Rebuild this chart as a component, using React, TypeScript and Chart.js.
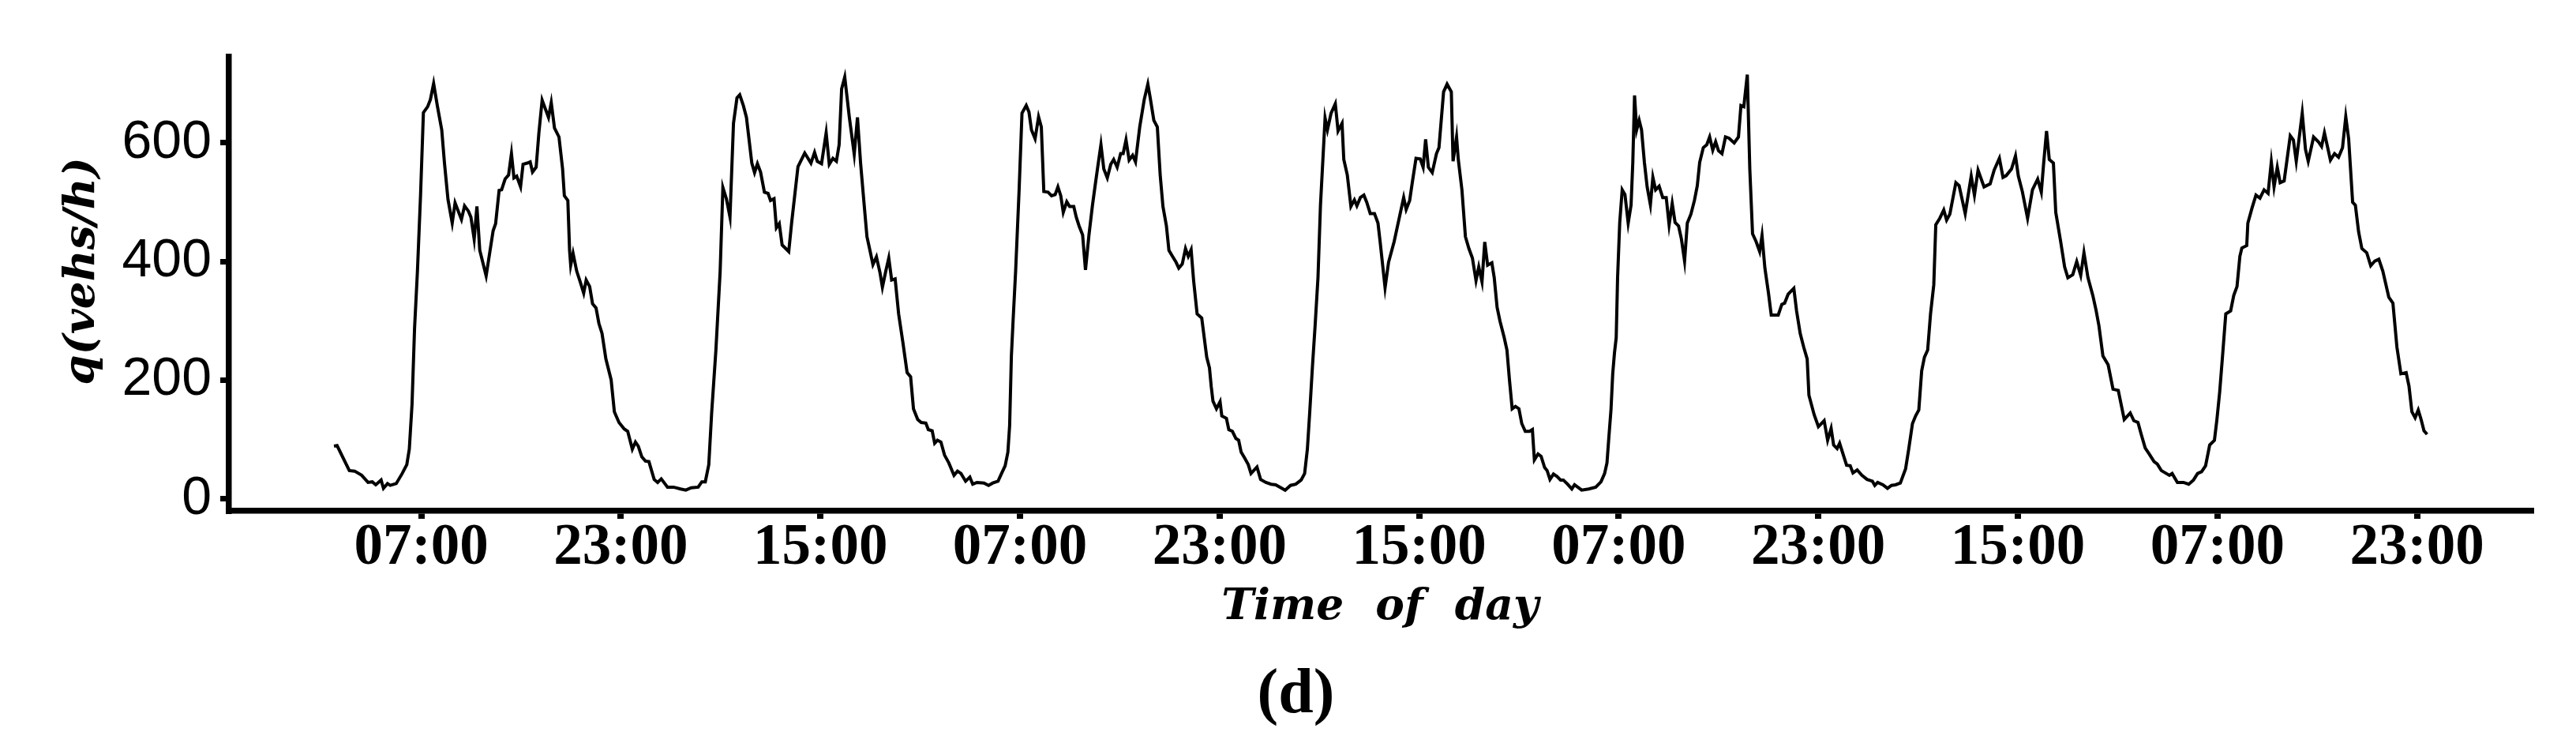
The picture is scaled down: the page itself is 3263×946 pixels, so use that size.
import React, { useEffect, useRef } from 'react';
import { Chart, registerables } from 'chart.js';

Chart.register(...registerables);

// time since start of record (hours) and traffic flow q (vehs/h)
const hours = [
  0.00, 0.25, 1.23, 1.66, 2.22, 2.73, 3.07, 3.35, 3.78, 3.97, 4.29, 4.51, 4.99, 5.47, 5.84, 6.04, 6.26, 6.46, 6.69, 6.94,
  7.17, 7.51, 7.73, 7.99, 8.30, 8.64, 8.86, 9.14, 9.48, 9.71, 10.22, 10.47, 10.78, 10.98, 11.24, 11.46, 11.69, 12.20, 12.76, 12.96,
  13.24, 13.44, 13.72, 14.00, 14.23, 14.43, 14.65, 14.96, 15.16, 15.50, 15.73, 15.92, 16.21, 16.43, 16.69, 17.20, 17.42, 17.68, 18.04, 18.33,
  18.47, 18.75, 18.89, 18.98, 19.17, 19.46, 19.74, 20.02, 20.22, 20.50, 20.73, 21.01, 21.24, 21.49, 21.80, 22.22, 22.48, 22.85, 23.27, 23.55,
  23.92, 24.17, 24.40, 24.68, 24.97, 25.25, 25.67, 25.95, 26.24, 26.74, 27.22, 27.79, 28.21, 28.64, 29.20, 29.49, 29.77, 30.05, 30.28, 30.62,
  30.96, 31.18, 31.46, 31.75, 32.03, 32.31, 32.53, 32.82, 33.07, 33.50, 33.72, 33.95, 34.20, 34.51, 34.80, 35.00, 35.28, 35.47, 35.70, 35.93,
  36.46, 36.69, 37.20, 37.74, 38.24, 38.53, 38.75, 39.09, 39.46, 39.71, 40.00, 40.28, 40.50, 40.70, 40.95, 41.32, 41.71, 41.97, 42.22, 42.51,
  42.73, 42.99, 43.21, 43.49, 43.78, 43.97, 44.26, 44.48, 44.71, 44.99, 45.27, 45.61, 45.95, 46.23, 46.46, 46.80, 47.08, 47.45, 47.65, 47.96,
  48.16, 48.38, 48.66, 48.95, 49.29, 49.71, 49.99, 50.27, 50.64, 50.98, 51.21, 51.55, 52.11, 52.48, 52.82, 53.24, 53.52, 53.81, 54.03, 54.17,
  54.31, 54.45, 54.65, 54.93, 55.16, 55.50, 55.72, 55.92, 56.21, 56.49, 56.71, 56.91, 57.25, 57.53, 57.82, 58.04, 58.27, 58.47, 58.75, 58.98,
  59.31, 59.51, 59.74, 60.02, 60.25, 60.53, 60.81, 61.01, 61.21, 61.49, 61.72, 62.00, 62.28, 62.51, 62.79, 63.07, 63.27, 63.50, 63.75, 64.03,
  64.26, 64.60, 64.96, 65.25, 65.44, 65.73, 66.01, 66.24, 66.46, 66.74, 66.94, 67.22, 67.51, 67.73, 68.01, 68.27, 68.49, 68.72, 68.92, 69.20,
  69.57, 69.77, 69.97, 70.19, 70.33, 70.47, 70.75, 71.04, 71.18, 71.55, 71.74, 72.03, 72.31, 72.53, 72.73, 73.01, 73.30, 73.52, 74.00, 74.29,
  74.71, 75.13, 75.50, 75.84, 76.26, 76.69, 77.11, 77.54, 77.82, 78.04, 78.24, 78.44, 78.66, 78.89, 79.09, 79.46, 79.65, 79.94, 80.28, 80.50,
  80.82, 80.96, 81.24, 81.53, 81.81, 82.01, 82.29, 82.57, 82.80, 83.08, 83.42, 83.70, 83.87, 84.27, 84.55, 85.00, 85.40, 85.76, 85.96, 86.24,
  86.47, 86.75, 87.09, 87.32, 87.52, 87.74, 88.05, 88.39, 88.59, 88.96, 89.24, 89.58, 89.72, 90.00, 90.14, 90.43, 90.71, 90.99, 91.27, 91.56,
  91.78, 92.04, 92.26, 92.49, 92.83, 93.02, 93.25, 93.48, 93.82, 94.04, 94.24, 94.46, 94.72, 95.00, 95.23, 95.51, 95.85, 96.08, 96.24, 96.53,
  96.78, 97.06, 97.26, 97.49, 97.77, 98.05, 98.34, 98.56, 98.90, 99.24, 99.46, 100.03, 100.60, 101.16, 101.58, 101.87, 102.06, 102.21, 102.38, 102.52,
  102.66, 102.80, 102.91, 103.08, 103.28, 103.50, 103.76, 103.99, 104.13, 104.27, 104.44, 104.64, 104.83, 105.06, 105.28, 105.54, 105.74, 105.96, 106.24, 106.53,
  106.81, 107.04, 107.29, 107.52, 107.80, 108.02, 108.28, 108.50, 108.79, 109.07, 109.30, 109.49, 109.78, 110.06, 110.29, 110.54, 110.77, 111.00, 111.28, 111.56,
  111.84, 112.26, 112.60, 112.80, 113.03, 113.31, 113.51, 113.73, 114.01, 114.30, 114.49, 114.72, 115.00, 115.23, 115.79, 116.08, 116.30, 116.58, 117.04, 117.26,
  117.55, 117.83, 118.11, 118.25, 118.67, 119.01, 119.47, 119.75, 120.03, 120.23, 120.51, 120.71, 121.27, 121.56, 121.78, 122.12, 122.49, 122.91, 123.34, 123.53,
  123.76, 124.18, 124.55, 124.87, 125.19, 125.58, 126.00, 126.25, 126.55, 126.80, 127.06, 127.29, 127.51, 127.77, 128.00, 128.26, 128.42, 128.74, 129.06, 129.29,
  129.55, 130.03, 130.29, 130.78, 131.26, 131.52, 131.81, 132.29, 132.78, 133.10, 133.52, 133.81, 134.07, 134.49, 134.81, 135.04, 135.36, 135.78, 136.17, 136.59,
  136.88, 137.07, 137.30, 137.52, 137.85, 138.04, 138.43, 138.75, 139.01, 139.40, 139.72, 140.04, 140.30, 140.62, 141.01, 141.27, 141.50, 141.82, 142.24, 142.63,
  143.05, 143.53, 144.01, 144.30, 144.63, 144.89, 145.21, 145.53, 145.92, 146.18, 146.50, 146.82, 147.15, 147.37, 147.79, 148.28, 148.70, 149.08, 149.41, 149.73,
  150.05, 150.38, 150.76, 150.96, 151.18, 151.41, 151.67, 152.06, 152.31, 152.57, 152.80, 152.96, 153.35, 153.44, 153.77, 154.09, 154.41, 154.74, 155.06, 155.32,
  155.54, 155.80, 156.03, 156.35, 156.84, 157.09, 157.32, 157.80, 158.06, 158.28, 158.71, 159.09, 159.35, 159.58, 160.06, 160.39, 160.71, 161.03, 161.29, 161.52,
  161.84, 162.06, 162.32, 162.58, 162.97, 163.29, 163.62, 163.94, 164.26, 164.74, 165.07, 165.39, 165.71, 166.13, 166.36, 166.59, 166.85, 167.10, 167.33, 167.56,
  167.81,
];

const flow = [
  89, 90, 48, 47, 40, 28, 29, 24, 32, 18, 26, 23, 26, 43, 58, 84, 160, 287, 383, 511,
  651, 661, 673, 700, 661, 622, 566, 505, 465, 499, 471, 494, 485, 475, 438, 493, 419, 376, 452, 464,
  520, 521, 539, 546, 582, 541, 544, 526, 564, 566, 568, 551, 559, 617, 672, 643, 668, 625, 610, 556,
  511, 503, 419, 394, 414, 384, 366, 347, 369, 358, 329, 322, 296, 279, 236, 201, 147, 129, 118, 114,
  84, 96, 89, 71, 64, 63, 33, 28, 34, 20, 20, 17, 15, 19, 20, 29, 29, 58, 145, 251,
  383, 525, 506, 475, 633, 676, 681, 663, 643, 566, 550, 565, 551, 517, 515, 503, 506, 457, 464, 428,
  417, 465, 560, 583, 566, 584, 569, 565, 617, 564, 574, 569, 597, 691, 711, 643, 581, 643, 566, 495,
  442, 417, 395, 408, 381, 357, 386, 406, 369, 371, 312, 264, 213, 206, 152, 134, 129, 128, 117, 115,
  94, 99, 96, 74, 61, 40, 47, 43, 30, 37, 25, 28, 27, 23, 27, 30, 43, 56, 79, 124,
  241, 302, 384, 521, 650, 663, 652, 622, 607, 644, 627, 518, 517, 511, 513, 526, 511, 483, 501, 493,
  493, 475, 460, 445, 386, 445, 495, 526, 556, 597, 556, 541, 564, 572, 559, 582, 582, 605, 571, 579,
  568, 627, 673, 699, 676, 638, 627, 546, 493, 460, 419, 409, 399, 389, 396, 422, 409, 420, 368, 312,
  305, 272, 239, 221, 190, 165, 152, 164, 140, 136, 117, 114, 102, 99, 79, 69, 58, 43, 54, 33,
  28, 25, 24, 20, 15, 23, 25, 32, 43, 84, 150, 221, 292, 373, 495, 642, 622, 650, 666, 620,
  633, 572, 546, 493, 504, 494, 508, 512, 500, 481, 481, 465, 434, 356, 399, 434, 473, 508, 488, 503,
  536, 574, 573, 559, 606, 559, 550, 582, 592, 686, 699, 686, 569, 610, 572, 521, 442, 422, 406, 368,
  391, 366, 433, 394, 398, 373, 323, 300, 272, 251, 201, 152, 156, 152, 127, 114, 114, 117, 66, 76,
  72, 53, 48, 33, 42, 38, 32, 32, 25, 17, 24, 15, 17, 20, 29, 43, 61, 104, 150, 211,
  246, 272, 373, 465, 521, 513, 465, 495, 567, 680, 622, 638, 622, 567, 526, 496, 542, 521, 527, 508,
  508, 462, 498, 466, 460, 439, 401, 465, 480, 503, 528, 567, 592, 597, 610, 588, 602, 587, 582, 610,
  608, 600, 610, 663, 661, 715, 556, 447, 434, 417, 444, 389, 348, 310, 310, 328, 330, 345, 355, 317,
  279, 256, 236, 175, 142, 122, 132, 99, 119, 91, 85, 94, 57, 56, 44, 49, 40, 33, 30, 23,
  28, 24, 18, 23, 24, 27, 51, 84, 127, 140, 150, 216, 239, 251, 312, 361, 462, 473, 487, 470,
  480, 533, 528, 481, 544, 512, 554, 526, 531, 554, 574, 542, 545, 556, 578, 544, 518, 473, 521, 539,
  517, 566, 620, 572, 566, 483, 434, 391, 373, 378, 400, 377, 415, 373, 343, 318, 292, 241, 226, 185,
  183, 134, 145, 132, 129, 109, 86, 76, 63, 59, 48, 44, 40, 43, 28, 28, 25, 32, 43, 46,
  56, 91, 99, 134, 180, 241, 312, 317, 343, 358, 409, 423, 427, 465, 490, 512, 507, 521, 515, 568,
  526, 559, 533, 536, 612, 605, 569, 650, 589, 569, 610, 602, 594, 617, 571, 582, 576, 592, 644, 607,
  500, 495, 450, 422, 415, 393, 401, 404, 384, 340, 330, 256, 211, 213, 190, 147, 137, 150, 134, 115,
  109,
];

const xTickHours = [7, 23, 39, 55, 71, 87, 103, 119, 135, 151, 167];
const xTickLabels = ['07:00', '23:00', '15:00', '07:00', '23:00', '15:00', '07:00', '23:00', '15:00', '07:00', '23:00'];
const yTickValues = [0, 200, 400, 600];

const W = 3263;
const H = 946;

export default function App() {
  const ref = useRef<HTMLCanvasElement | null>(null);

  useEffect(() => {
    document.body.style.margin = '0';
    const canvas = ref.current;
    if (!canvas) return;

    const titleTweaks = {
      id: 'titleTweaks',
      beforeDraw(chart: any) {
        const sx = chart.scales.x;
        if (sx && !sx.__tw) {
          const orig = sx.drawTitle;
          sx.drawTitle = function () {
            const c = this.ctx;
            c.save();
            (c as any).wordSpacing = '21px';
            orig.call(this);
            c.restore();
          };
          sx.__tw = true;
        }
        const sy = chart.scales.y;
        if (sy && !sy.__tw) {
          const orig = sy.drawTitle;
          sy.drawTitle = function () {
            const c = this.ctx;
            c.save();
            c.translate(0, -16);
            orig.call(this);
            c.restore();
          };
          sy.__tw = true;
        }
      },
    };

    const points = hours.map((h, i) => ({ x: h, y: flow[i] }));

    const chart = new Chart(canvas, {
      type: 'line',
      data: {
        datasets: [
          {
            label: 'q',
            data: points,
            borderColor: '#000',
            borderWidth: 4,
            pointRadius: 0,
            fill: false,
            tension: 0,
          },
        ],
      },
      plugins: [titleTweaks],
      options: {
        animation: false,
        responsive: false,
        devicePixelRatio: 1,
        layout: { padding: { left: 77, right: 57, top: 72, bottom: 0 } },
        plugins: {
          legend: { display: false },
          tooltip: { enabled: false },
          title: {
            display: true,
            text: '(d)',
            position: 'bottom',
            color: '#000',
            font: { family: 'Liberation Serif', size: 80, weight: 'bold', lineHeight: 1 },
            padding: { top: 0, bottom: 25 },
          },
        },
        scales: {
          x: {
            type: 'linear',
            min: -8.42,
            max: 176.14,
            offset: false,
            afterFit: (s: any) => {
              s.height = 194;
            },
            afterBuildTicks: (s: any) => {
              s.ticks = xTickHours.map((v) => ({ value: v }));
            },
            border: { display: true, color: '#000', width: 7.5 },
            grid: {
              drawOnChartArea: false,
              drawTicks: true,
              tickLength: 10,
              tickColor: '#000',
              tickWidth: 8,
              color: '#000',
              lineWidth: 8,
            },
            ticks: {
              autoSkip: false,
              maxRotation: 0,
              minRotation: 0,
              padding: 5,
              color: '#000',
              font: { family: 'Liberation Serif', size: 73, weight: 'bold', lineHeight: 0.9 },
              callback: (_v: any, i: number) => xTickLabels[i],
            },
            title: {
              display: true,
              text: 'Time of day',
              color: '#000',
              font: { family: 'DejaVu Serif', size: 55, style: 'italic', weight: 'bold', lineHeight: 1 },
              padding: { top: 0, bottom: 44 },
            },
          },
          y: {
            type: 'linear',
            min: -20,
            max: 745,
            afterFit: (s: any) => {
              s.width = 213;
            },
            afterBuildTicks: (s: any) => {
              s.ticks = yTickValues.map((v) => ({ value: v }));
            },
            border: { display: true, color: '#000', width: 7.5 },
            grid: {
              drawOnChartArea: false,
              drawTicks: true,
              tickLength: 11,
              tickColor: '#000',
              tickWidth: 7,
              color: '#000',
              lineWidth: 7,
            },
            ticks: {
              padding: 11,
              color: '#000',
              font: { family: 'Liberation Sans', size: 68, lineHeight: 1 },
              callback: (v: any) => String(v),
            },
            title: {
              display: true,
              text: 'q(vehs/h)',
              color: '#000',
              font: { family: 'DejaVu Serif', size: 55, style: 'italic', weight: 'bold', lineHeight: 1 },
              padding: { top: 0, bottom: 0 },
            },
          },
        },
      },
    });

    return () => chart.destroy();
  }, []);

  return (
    <div style={{ width: W, height: H, background: '#fff' }}>
      <canvas ref={ref} width={W} height={H} style={{ display: 'block', width: W, height: H }} />
    </div>
  );
}
